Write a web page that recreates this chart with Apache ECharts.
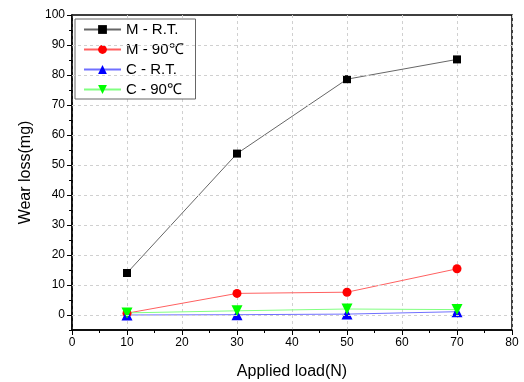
<!DOCTYPE html>
<html>
<head>
<meta charset="utf-8">
<script src="https://cdn.jsdelivr.net/npm/echarts@6/dist/echarts.min.js"></script>
<style>
  html, body { margin: 0; padding: 0; background: #fff; }
  #chart { width: 524px; height: 382px; }
</style>
</head>
<body>
<div id="chart"></div>
<script>
const loads = [10, 30, 50, 70];
const mRT = [14.0, 53.8, 78.6, 85.2];
const m90 = [0.6, 7.2, 7.6, 15.4];
const cRT = [0.0, 0.1, 0.3, 1.1];
const c90 = [0.7, 1.4, 2.0, 1.8];
const yMajor = [0, 10, 20, 30, 40, 50, 60, 70, 80, 90, 100];

const pairs = (ys) => loads.map((x, i) => [x, ys[i]]);
const font = "Liberation Sans, Arial, sans-serif";

const chart = echarts.init(document.getElementById("chart"));

const mkSeries = (name, ys, color, lineColor, symbol, size, rotate) => ({
  name,
  type: "line",
  data: pairs(ys),
  symbol,
  symbolSize: size,
  symbolRotate: rotate || 0,
  itemStyle: { color },
  lineStyle: { color: lineColor, width: 1 },
  emphasis: { disabled: true },
});

chart.setOption({
  animation: false,
  grid: {
    left: 72, right: 12, top: 15, bottom: 52,
    outerBoundsMode: "none",
    show: true, borderColor: "#000", borderWidth: 1.5,
  },
  legend: {
    orient: "vertical",
    left: 75, top: 19,
    padding: [3, 12, 2, 8],
    itemWidth: 37, itemHeight: 11, itemGap: 5,
    borderColor: "#666", borderWidth: 1,
    backgroundColor: "#fff",
    textStyle: { fontFamily: font, fontSize: 15, color: "#000" },
    data: ["M - R.T.", "M - 90℃", "C - R.T.", "C - 90℃"],
  },
  xAxis: {
    type: "value",
    min: 0, max: 80, interval: 10,
    name: "Applied load(N)",
    nameLocation: "middle",
    nameGap: 34,
    nameTextStyle: { fontFamily: font, fontSize: 16, color: "#000" },
    axisLine: { onZero: false, lineStyle: { color: "#000", width: 1.5 } },
    axisTick: { length: 5, lineStyle: { color: "#000", width: 1 } },
    minorTick: { show: true, splitNumber: 2, length: 3, lineStyle: { color: "#000" } },
    axisLabel: { fontFamily: font, fontSize: 12, color: "#000", margin: 7 },
    splitLine: { show: true, lineStyle: { color: "#d0d0d0", type: [3, 3], width: 1 } },
  },
  yAxis: [
    {
      type: "value",
      min: -5, max: 100, interval: 5,
      name: "Wear loss(mg)",
      nameLocation: "middle",
      nameGap: 36,
      nameTextStyle: { fontFamily: font, fontSize: 16, color: "#000" },
      axisLine: { show: true, onZero: false, lineStyle: { color: "#000", width: 1.5 } },
      axisTick: { show: true, length: 5, customValues: yMajor, lineStyle: { color: "#000" } },
      axisLabel: { fontFamily: font, fontSize: 12, color: "#000", margin: 7, customValues: yMajor },
      splitLine: { show: false },
    },
    {
      type: "value",
      min: -5, max: 100, interval: 5,
      position: "left",
      axisLine: { show: false, onZero: false },
      axisTick: { show: true, length: 3, lineStyle: { color: "#000" } },
      axisLabel: { show: false },
      splitLine: { show: false },
    },
  ],
  series: [
    mkSeries("M - R.T.", mRT, "#000", "#666", "rect", 8),
    mkSeries("M - 90℃", m90, "#ff0000", "#ff6060", "circle", 9),
    mkSeries("C - R.T.", cRT, "#0000ff", "#7070ff", "triangle", 11),
    mkSeries("C - 90℃", c90, "#00ff00", "#80ff80", "triangle", 11, 180),
    {
      type: "line",
      data: [],
      silent: true,
      markLine: {
        symbol: "none",
        silent: true,
        label: { show: false },
        lineStyle: { color: "#d0d0d0", type: [3, 3], width: 1 },
        data: yMajor.slice(1, -1).map((v) => ({ yAxis: v })).concat([{ yAxis: 0 }]),
      },
    },
  ],
});
</script>
</body>
</html>
